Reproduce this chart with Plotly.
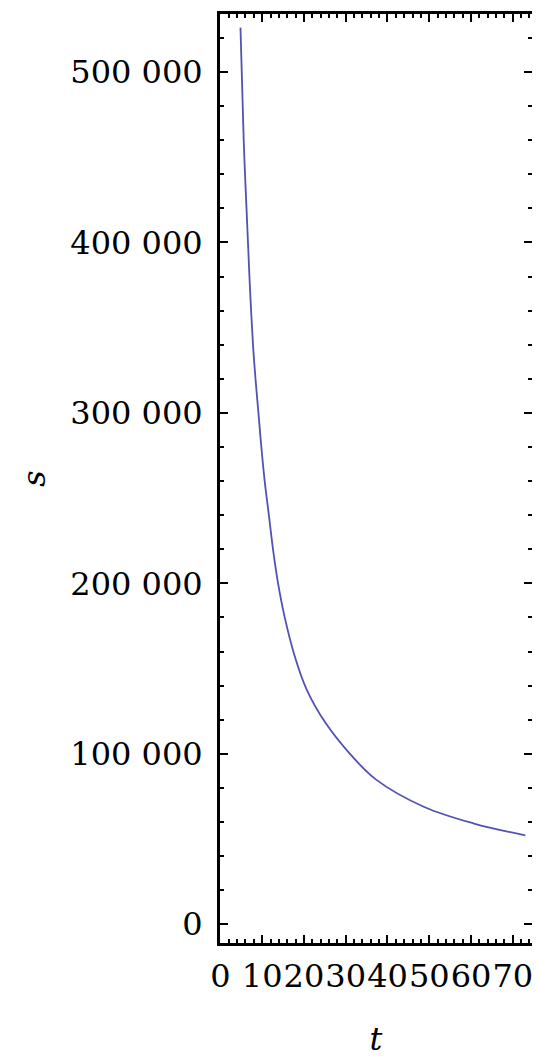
import plotly.graph_objects as go

# values
t_vals = [4.8, 5.6, 6.6, 7.1, 7.8, 8.4, 9.1, 9.8, 10.6, 11.6, 12.7, 13.8,
          15.4, 17.7, 20.6, 25.2, 31.0, 37.2, 48.8, 60.7, 73.0]
s_vals = [526000, 458000, 400000, 372000, 340000, 320000, 300000, 280000,
          260000, 240000, 218000, 200000, 180000, 158000, 138000, 118000,
          100000, 85000, 68800, 59100, 52200]

y_ticks = [0, 100000, 200000, 300000, 400000, 500000]
x_ticks = [0, 10, 20, 30, 40, 50, 60, 70]

x_range = [-0.1, 74.6]
y_range = [-11000, 534000]

fig = go.Figure()

fig.add_trace(go.Scatter(
    x=t_vals,
    y=s_vals,
    mode="lines",
    line=dict(color="rgb(82,82,178)", width=1.8, shape="spline", smoothing=1),
    showlegend=False,
))

# empty trace so the top/right frame axes get drawn with their ticks
fig.add_trace(go.Scatter(x=[], y=[], xaxis="x2", yaxis="y2", showlegend=False))

axis_font = dict(family="DejaVu Serif", size=32, color="black")

frame = dict(
    ticks="inside",
    ticklen=8,
    tickwidth=2,
    tickcolor="black",
    showline=True,
    linewidth=3,
    linecolor="black",
    showgrid=False,
    zeroline=False,
    automargin=False,
)
x_minor = dict(dtick=2, ticks="inside", ticklen=4, tickwidth=1.5,
               tickcolor="black", showgrid=False)
y_minor = dict(dtick=20000, ticks="inside", ticklen=4, tickwidth=1.5,
               tickcolor="black", showgrid=False)

# page body adds an 8px offset, so the figure is sized to fit the window
fig.update_layout(
    width=532,
    height=1052,
    margin=dict(l=212, r=8, t=6, b=117),
    paper_bgcolor="white",
    plot_bgcolor="white",
    separators=". ",
    font=axis_font,
    xaxis=dict(
        frame,
        range=x_range,
        tickvals=x_ticks,
        tickangle=0,
        tickfont=axis_font,
        ticklabelstandoff=3,
        minor=x_minor,
        title=dict(text="<i>t</i>", font=axis_font, standoff=34),
    ),
    yaxis=dict(
        frame,
        range=y_range,
        tickvals=y_ticks,
        tickformat=",d",
        tickfont=axis_font,
        ticklabelstandoff=8,
        minor=y_minor,
        title=dict(text="<i>s</i>", font=axis_font, standoff=16),
    ),
    xaxis2=dict(
        frame,
        range=x_range,
        tickvals=x_ticks,
        side="top",
        overlaying="x",
        anchor="y2",
        showticklabels=False,
        minor=x_minor,
    ),
    yaxis2=dict(
        frame,
        range=y_range,
        tickvals=y_ticks,
        side="right",
        overlaying="y",
        anchor="x2",
        showticklabels=False,
        minor=y_minor,
    ),
)

fig.write_html("out.html")
